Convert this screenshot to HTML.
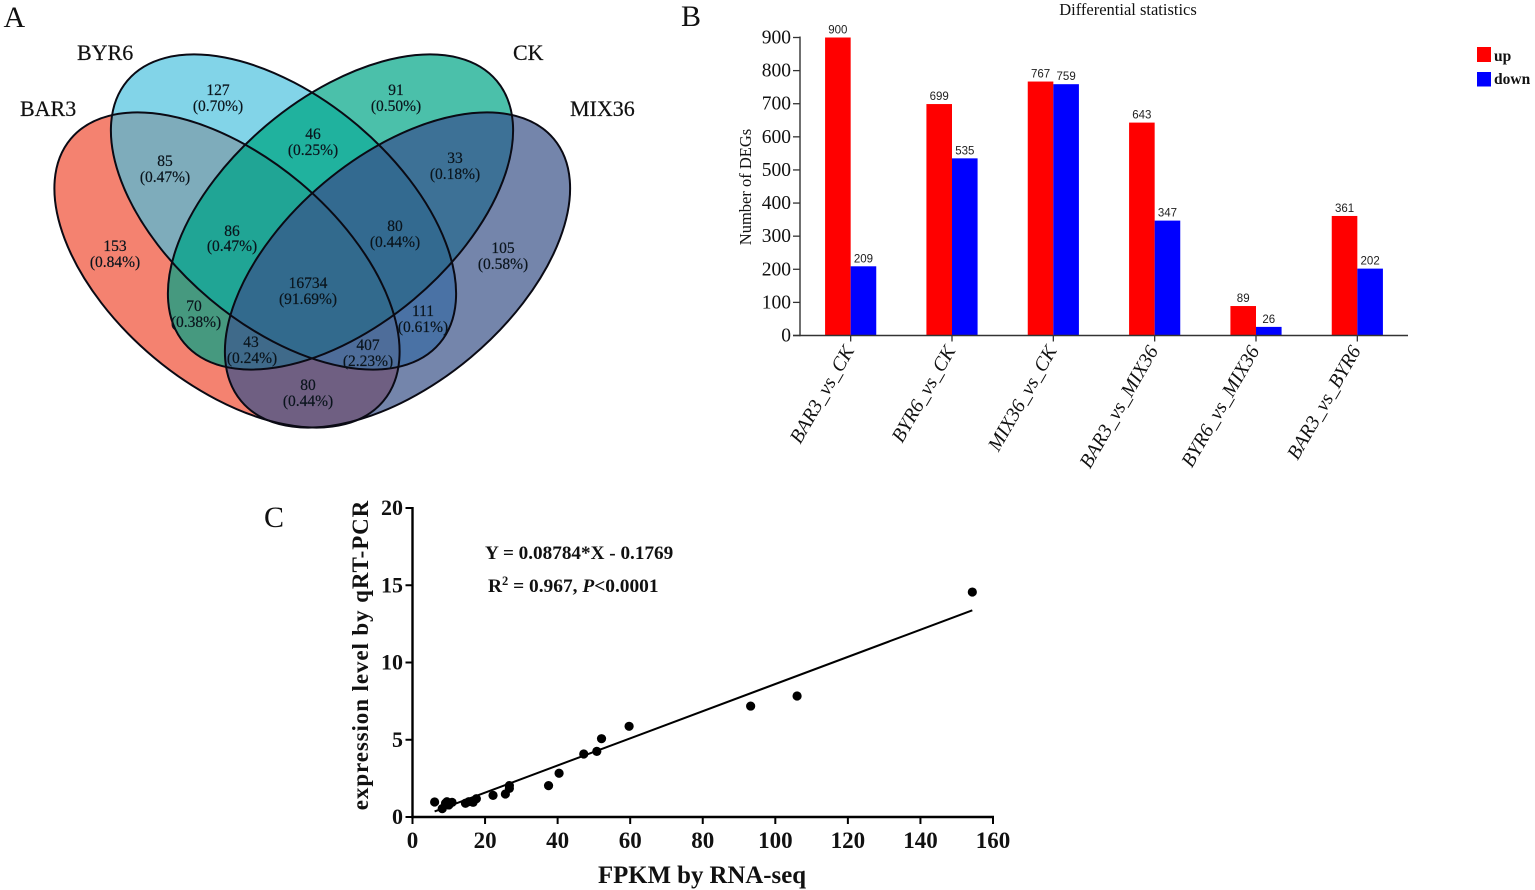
<!DOCTYPE html>
<html lang="en">
<head>
<meta charset="utf-8">
<title>Venn diagram, DEG bar chart and qRT-PCR correlation</title>
<style>
html,body{margin:0;padding:0;background:#fff;width:1535px;height:890px;overflow:hidden}
svg{display:block;font-family:"Liberation Serif",serif}
.v{font-size:15.5px;fill:#0a141c;stroke:#0a141c;stroke-width:.2;text-anchor:middle}
.set{font-size:22px;fill:#111;stroke:#111;stroke-width:.2}
.panel{font-size:30px;fill:#111}
</style>
</head>
<body>
<svg id="fig" width="1535" height="890" viewBox="0 0 1535 890" xmlns="http://www.w3.org/2000/svg">
<defs>
<clipPath id="cR"><ellipse cx="227" cy="270" rx="204" ry="114" transform="rotate(40 227 270)"/></clipPath>
<clipPath id="cB"><ellipse cx="283.5" cy="212" rx="204" ry="114" transform="rotate(40 283.5 212)"/></clipPath>
<clipPath id="cG"><ellipse cx="340.5" cy="212" rx="204" ry="114" transform="rotate(-40 340.5 212)"/></clipPath>
<clipPath id="cM"><ellipse cx="397.5" cy="270" rx="204" ry="114" transform="rotate(-40 397.5 270)"/></clipPath>
</defs>

<text class="panel" x="3.5" y="27">A</text>
<text class="panel" x="681" y="26">B</text>
<text class="panel" x="264" y="527">C</text>

<g id="venn">
  <g>
    <rect clip-path="url(#cR)" width="700" height="500" fill="#f48270"/>
    <rect clip-path="url(#cB)" width="700" height="500" fill="#82d4e8"/>
    <rect clip-path="url(#cG)" width="700" height="500" fill="#4bc0aa"/>
    <rect clip-path="url(#cM)" width="700" height="500" fill="#7485ab"/>
    <g clip-path="url(#cR)"><rect clip-path="url(#cB)" width="700" height="500" fill="#7eacbb"/></g>
    <g clip-path="url(#cB)"><rect clip-path="url(#cG)" width="700" height="500" fill="#20b29e"/></g>
    <g clip-path="url(#cG)"><rect clip-path="url(#cM)" width="700" height="500" fill="#3d7196"/></g>
    <g clip-path="url(#cR)"><rect clip-path="url(#cG)" width="700" height="500" fill="#46997f"/></g>
    <g clip-path="url(#cB)"><rect clip-path="url(#cM)" width="700" height="500" fill="#4a72a5"/></g>
    <g clip-path="url(#cR)"><rect clip-path="url(#cM)" width="700" height="500" fill="#6f5f82"/></g>
    <g clip-path="url(#cR)"><g clip-path="url(#cB)"><rect clip-path="url(#cG)" width="700" height="500" fill="#20a595"/></g></g>
    <g clip-path="url(#cB)"><g clip-path="url(#cG)"><rect clip-path="url(#cM)" width="700" height="500" fill="#336a90"/></g></g>
    <g clip-path="url(#cR)"><g clip-path="url(#cG)"><rect clip-path="url(#cM)" width="700" height="500" fill="#3f6a8a"/></g></g>
    <g clip-path="url(#cR)"><g clip-path="url(#cB)"><rect clip-path="url(#cM)" width="700" height="500" fill="#4e6d9a"/></g></g>
    <g clip-path="url(#cR)"><g clip-path="url(#cB)"><g clip-path="url(#cG)"><rect clip-path="url(#cM)" width="700" height="500" fill="#326a8d"/></g></g></g>
  </g>
  <g fill="none" stroke="#0a0a14" stroke-width="2">
    <ellipse cx="227" cy="270" rx="204" ry="114" transform="rotate(40 227 270)"/>
    <ellipse cx="283.5" cy="212" rx="204" ry="114" transform="rotate(40 283.5 212)"/>
    <ellipse cx="340.5" cy="212" rx="204" ry="114" transform="rotate(-40 340.5 212)"/>
    <ellipse cx="397.5" cy="270" rx="204" ry="114" transform="rotate(-40 397.5 270)"/>
  </g>
  <text class="set" x="20" y="116">BAR3</text>
  <text class="set" x="77" y="60">BYR6</text>
  <text class="set" x="513" y="60">CK</text>
  <text class="set" x="570" y="116">MIX36</text>
  <g>
    <text class="v" x="218" y="95">127</text><text class="v" x="218" y="111">(0.70%)</text>
    <text class="v" x="396" y="95">91</text><text class="v" x="396" y="111">(0.50%)</text>
    <text class="v" x="313" y="139">46</text><text class="v" x="313" y="155">(0.25%)</text>
    <text class="v" x="165" y="166">85</text><text class="v" x="165" y="182">(0.47%)</text>
    <text class="v" x="455" y="163">33</text><text class="v" x="455" y="179">(0.18%)</text>
    <text class="v" x="232" y="236">86</text><text class="v" x="232" y="251">(0.47%)</text>
    <text class="v" x="395" y="231">80</text><text class="v" x="395" y="247">(0.44%)</text>
    <text class="v" x="115" y="251">153</text><text class="v" x="115" y="267">(0.84%)</text>
    <text class="v" x="503" y="253">105</text><text class="v" x="503" y="269">(0.58%)</text>
    <text class="v" x="308" y="288">16734</text><text class="v" x="308" y="304">(91.69%)</text>
    <text class="v" x="194" y="311">70</text><text class="v" x="196" y="327">(0.38%)</text>
    <text class="v" x="423" y="316">111</text><text class="v" x="423" y="332">(0.61%)</text>
    <text class="v" x="251" y="347">43</text><text class="v" x="252" y="363">(0.24%)</text>
    <text class="v" x="368" y="350">407</text><text class="v" x="368" y="366">(2.23%)</text>
    <text class="v" x="308" y="390">80</text><text class="v" x="308" y="406">(0.44%)</text>
  </g>
</g>

<g id="barChart">
  <text x="1128" y="15" text-anchor="middle" font-size="16.5" fill="#111">Differential statistics</text>
  <text transform="translate(751 187) rotate(-90)" text-anchor="middle" font-size="16.5" fill="#111">Number of DEGs</text>
  <rect x="1477" y="47" width="14" height="15" fill="#f00"/>
  <text x="1494" y="61" font-size="15.5" font-weight="bold" fill="#111">up</text>
  <rect x="1477" y="72" width="14" height="14.5" fill="#00f"/>
  <text x="1494" y="84" font-size="15.5" font-weight="bold" fill="#111">down</text>
</g>

<g id="scatter">
  <text x="702" y="883" text-anchor="middle" font-size="24.8" font-weight="bold" fill="#111">FPKM by RNA-seq</text>
  <text transform="translate(368 655) rotate(-90)" text-anchor="middle" font-size="23" font-weight="bold" letter-spacing="0.9" fill="#111">expression level by qRT-PCR</text>
  <text x="485" y="559" font-size="19.2" font-weight="bold" fill="#111">Y = 0.08784*X - 0.1769</text>
  <text x="488" y="592" font-size="19.4" font-weight="bold" fill="#111">R<tspan dy="-7" font-size="12.5">2</tspan><tspan dy="7"> = 0.967, </tspan><tspan font-style="italic">P</tspan>&lt;0.0001</text>
</g>
</svg>

<script>
var barCategories = ["BAR3_vs_CK", "BYR6_vs_CK", "MIX36_vs_CK", "BAR3_vs_MIX36", "BYR6_vs_MIX36", "BAR3_vs_BYR6"];
var upValues = [900, 699, 767, 643, 89, 361];
var downValues = [209, 535, 759, 347, 26, 202];
var barTicks = [0, 100, 200, 300, 400, 500, 600, 700, 800, 900];

var scatterX = [6.1, 8.2, 9.1, 9.5, 10, 10.9, 14.6, 15.5, 16.7, 17.6, 22.2, 25.6, 26.7, 26.7, 37.5, 40.4, 47.2, 50.8, 52.1, 59.7, 93.2, 106, 154.3];
var scatterY = [0.97, 0.54, 0.89, 0.99, 0.78, 0.95, 0.89, 0.99, 0.95, 1.18, 1.4, 1.49, 1.85, 2.03, 2.03, 2.83, 4.08, 4.25, 5.07, 5.87, 7.18, 7.83, 14.56];
var scatterXTicks = [0, 20, 40, 60, 80, 100, 120, 140, 160];
var scatterYTicks = [0, 5, 10, 15, 20];
var regressionSlope = 0.08784;
var regressionIntercept = -0.1769;
var regressionRange = [6.1, 154.3];

var NS = "http://www.w3.org/2000/svg";
function mk(parent, tag, attrs, text) {
  var el = document.createElementNS(NS, tag);
  for (var k in attrs) el.setAttribute(k, attrs[k]);
  if (text !== undefined) el.textContent = text;
  parent.appendChild(el);
  return el;
}

(function drawBars() {
  var g = document.getElementById("barChart");
  var left = 800, right = 1408, y0 = 335.5, y900 = 37.5;
  var band = (right - left) / barCategories.length;
  var barW = band * 0.2525;
  function yScale(v) { return y0 - v * (y0 - y900) / 900; }
  function xCenter(i) { return left + band * (i + 0.5); }

  barCategories.forEach(function (cat, i) {
    var c = xCenter(i);
    var up = mk(g, "rect", {x: c - barW, y: yScale(upValues[i]), width: barW, height: y0 - yScale(upValues[i]), fill: "#f00"});
    
    
    var down = mk(g, "rect", {x: c, y: yScale(downValues[i]), width: barW, height: y0 - yScale(downValues[i]), fill: "#00f"});
    
    
    var upLabel = mk(g, "text", {x: c - barW / 2, y: yScale(upValues[i]) - 4, "text-anchor": "middle", "font-size": 11.5, "font-family": "Liberation Sans, sans-serif", fill: "#222"}, upValues[i]);
    
    
    var downLabel = mk(g, "text", {x: c + barW / 2, y: yScale(downValues[i]) - 4, "text-anchor": "middle", "font-size": 11.5, "font-family": "Liberation Sans, sans-serif", fill: "#222"}, downValues[i]);
    
    
    var tick = mk(g, "line", {x1: c, x2: c, y1: y0, y2: y0 + 6, stroke: "#333", "stroke-width": 1.3});
    
    
    var lab = mk(g, "text", {transform: "translate(" + (c + 4) + " " + (y0 + 15) + ") rotate(-60)", "text-anchor": "end", "font-size": 19.8, "font-style": "italic", fill: "#111"}, cat);
    
    
  });

  barTicks.forEach(function (t) {
    var tick = mk(g, "line", {x1: left - 7, x2: left, y1: yScale(t), y2: yScale(t), stroke: "#333", "stroke-width": 1.3});
    
    
    var lab = mk(g, "text", {x: left - 9, y: yScale(t) + 6, "text-anchor": "end", "font-size": 19.5, fill: "#111"}, t);
    
    
  });

  var yAxis = mk(g, "line", {x1: left, x2: left, y1: y900 - 1, y2: y0 + 0.7, stroke: "#333", "stroke-width": 1.4});
  
  
  var xAxis = mk(g, "line", {x1: left - 7, x2: right, y1: y0, y2: y0, stroke: "#333", "stroke-width": 1.4});
  
  
})();

(function drawScatter() {
  var g = document.getElementById("scatter");
  var x0 = 412.5, x160 = 993, y0 = 817, y20 = 508;
  function xs(v) { return x0 + v * (x160 - x0) / 160; }
  function ys(v) { return y0 - v * (y0 - y20) / 20; }

  var yAxis = mk(g, "line", {x1: x0, x2: x0, y1: y20 - 1, y2: y0 + 1.2, stroke: "#000", "stroke-width": 2.4});
  
  
  var xAxis = mk(g, "line", {x1: x0 - 1.2, x2: x160 + 1, y1: y0, y2: y0, stroke: "#000", "stroke-width": 2.4});
  
  

  scatterXTicks.forEach(function (t) {
    var tick = mk(g, "line", {x1: xs(t), x2: xs(t), y1: y0, y2: y0 + 7, stroke: "#000", "stroke-width": 2});
    
    
    var lab = mk(g, "text", {x: xs(t), y: 848, "text-anchor": "middle", "font-size": 23, "font-weight": "bold", fill: "#111"}, t);
    
    
  });
  scatterYTicks.forEach(function (t) {
    var tick = mk(g, "line", {x1: x0 - 7, x2: x0, y1: ys(t), y2: ys(t), stroke: "#000", "stroke-width": 2});
    
    
    var lab = mk(g, "text", {x: x0 - 9.5, y: ys(t) + 7, "text-anchor": "end", "font-size": 22, "font-weight": "bold", fill: "#111"}, t);
    
    
  });

  var fit = mk(g, "line", {
    x1: xs(regressionRange[0]), y1: ys(regressionSlope * regressionRange[0] + regressionIntercept),
    x2: xs(regressionRange[1]), y2: ys(regressionSlope * regressionRange[1] + regressionIntercept),
    stroke: "#000", "stroke-width": 2
  });
  
  

  scatterX.forEach(function (x, i) {
    var p = mk(g, "circle", {cx: xs(x), cy: ys(scatterY[i]), r: 4.6, fill: "#000"});
    
    
  });
})();
</script>
</body>
</html>
